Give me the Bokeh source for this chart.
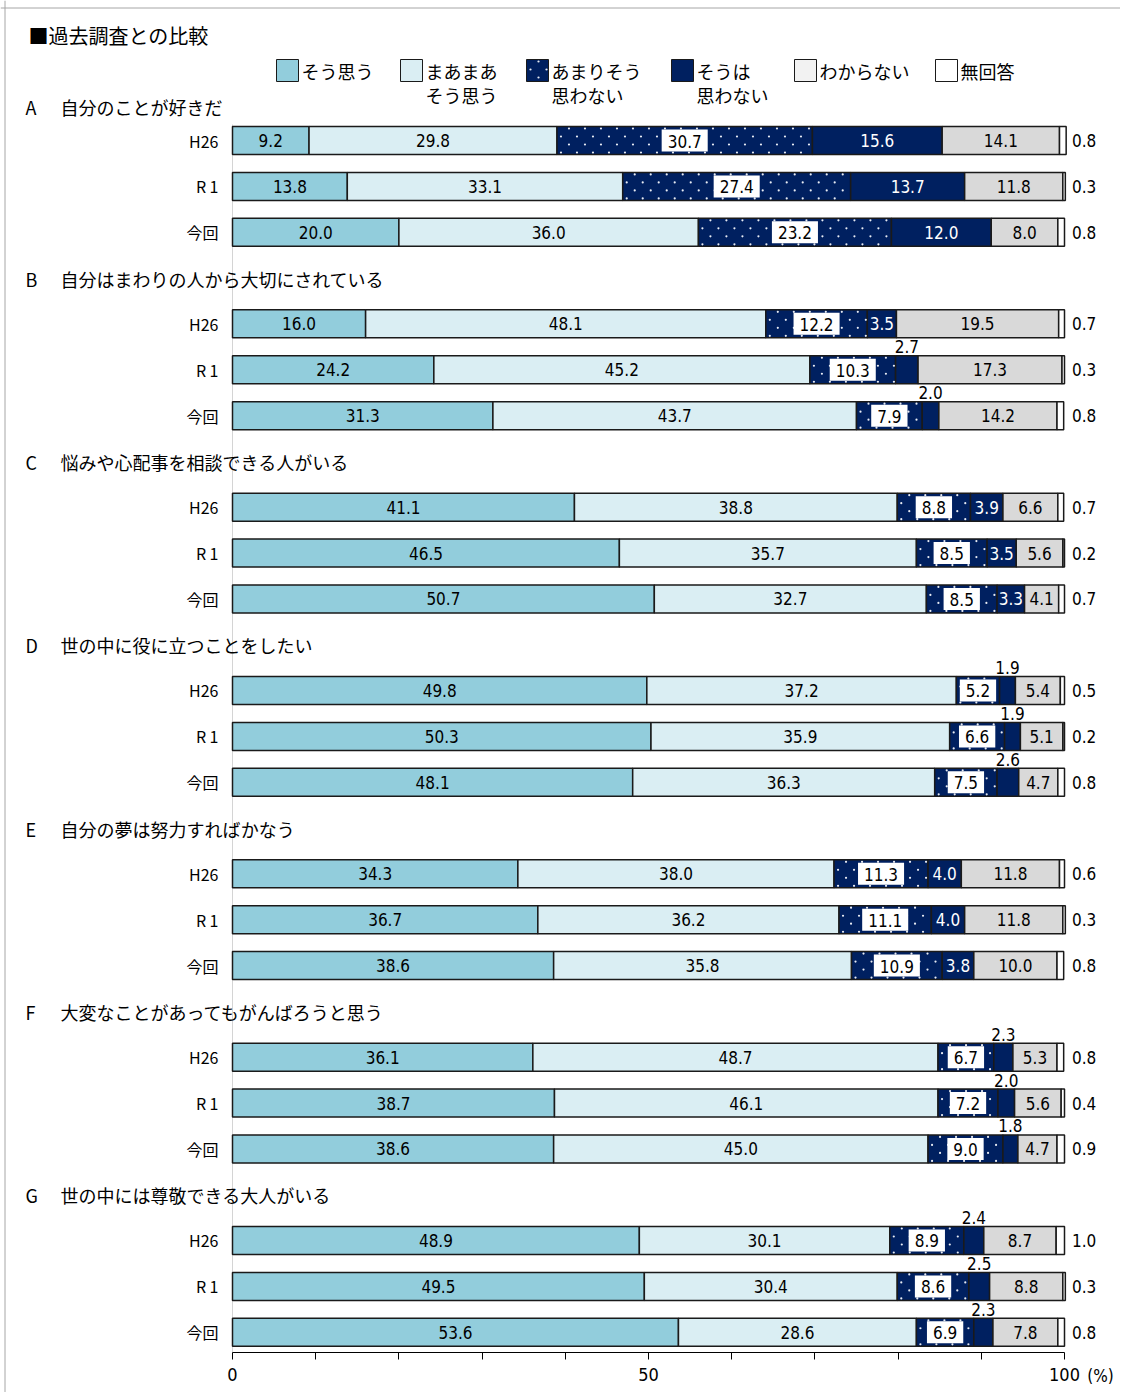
from bokeh.plotting import figure
from bokeh.models import Range1d, FixedTicker, Span, ColumnDataSource, LinearAxis
from bokeh.core.properties import value
from bokeh.embed import file_html
from bokeh.resources import INLINE

# ---------------- data ----------------
title = "■過去調査との比較"
letters = ["A", "B", "C", "D", "E", "F", "G"]
questions = [
    "自分のことが好きだ",
    "自分はまわりの人から大切にされている",
    "悩みや心配事を相談できる人がいる",
    "世の中に役に立つことをしたい",
    "自分の夢は努力すればかなう",
    "大変なことがあってもがんばろうと思う",
    "世の中には尊敬できる大人がいる",
]
surveys = ["H26", "R 1", "今回"]
series_names = [["そう思う"], ["まあまあ", "そう思う"], ["あまりそう", "思わない"],
                ["そうは", "思わない"], ["わからない"], ["無回答"]]

so_omou = [9.2, 13.8, 20.0, 16.0, 24.2, 31.3, 41.1, 46.5, 50.7, 49.8, 50.3, 48.1,
           34.3, 36.7, 38.6, 36.1, 38.7, 38.6, 48.9, 49.5, 53.6]
maamaa = [29.8, 33.1, 36.0, 48.1, 45.2, 43.7, 38.8, 35.7, 32.7, 37.2, 35.9, 36.3,
          38.0, 36.2, 35.8, 48.7, 46.1, 45.0, 30.1, 30.4, 28.6]
amari = [30.7, 27.4, 23.2, 12.2, 10.3, 7.9, 8.8, 8.5, 8.5, 5.2, 6.6, 7.5,
         11.3, 11.1, 10.9, 6.7, 7.2, 9.0, 8.9, 8.6, 6.9]
souha = [15.6, 13.7, 12.0, 3.5, 2.7, 2.0, 3.9, 3.5, 3.3, 1.9, 1.9, 2.6,
         4.0, 4.0, 3.8, 2.3, 2.0, 1.8, 2.4, 2.5, 2.3]
wakaranai = [14.1, 11.8, 8.0, 19.5, 17.3, 14.2, 6.6, 5.6, 4.1, 5.4, 5.1, 4.7,
             11.8, 11.8, 10.0, 5.3, 5.6, 4.7, 8.7, 8.8, 7.8]
mukaitou = [0.8, 0.3, 0.8, 0.7, 0.3, 0.8, 0.7, 0.2, 0.7, 0.5, 0.2, 0.8,
            0.6, 0.3, 0.8, 0.8, 0.4, 0.9, 1.0, 0.3, 0.8]

x_ticks = [0, 50, 100]
x_minor = [10, 20, 30, 40, 60, 70, 80, 90]
x_unit = "(%)"

# ---------------- styles ----------------
JP = "Noto Sans CJK JP"
NUM = "'DejaVu Sans Condensed', 'Roboto'"
NAVY = "#002060"
fills = ["#92CDDC", "#DAEEF3", NAVY, NAVY, "#D9D9D9", "#FFFFFF"]
legend_fills = ["#92CDDC", "#DAEEF3", NAVY, NAVY, "#F2F2F2", "#FFFFFF"]
OUTLINE = "#1a1a1a"

W, H = 1120, 1392
AXIS_Y = 1352
LEFT_PX, RIGHT_PX = 232.0, 1064.0     # pixel of 0 % and 100 %
SCALE = (RIGHT_PX - LEFT_PX) / 100.0
X0 = (0 - LEFT_PX) / SCALE
X1 = (W - LEFT_PX) / SCALE
BAR_H = 28


def px(x):
    return (x - LEFT_PX) / SCALE


def dot_grid(left, right, yc, half):
    """white dot texture positions for a box (x in data units, y in pixels)"""
    dx, dy = [], []
    top, bottom = yc - half, yc + half
    i = 0
    yy = top + 2.0
    while yy < bottom - 1.0:
        off = 8.0 if i % 2 == 0 else 0.0
        xx = left + (4.0 + off) / SCALE
        while xx < right - 1.5 / SCALE:
            dx.append(xx)
            dy.append(yy)
            xx += 16.0 / SCALE
        yy += 8.0
        i += 1
    return dx, dy


p = figure(width=W, height=H, output_backend="svg", toolbar_location=None,
           x_range=Range1d(X0, X1), y_range=Range1d(H, 0),
           x_axis_location=None, y_axis_location=None,
           min_border_left=0, min_border_right=0, min_border_top=0,
           min_border_bottom=0)
p.grid.visible = False
p.outline_line_color = None
p.background_fill_color = "white"

# row positions
n_rows = len(so_omou)
ys = []
for g in range(len(questions)):
    for r in range(len(surveys)):
        ys.append(140 + g * 183.33 + r * 45.9)

series = [so_omou, maamaa, amari, souha, wakaranai, mukaitou]
lefts = [0.0] * n_rows
seg_left, seg_right = [], []
for s in series:
    rights = [l + v for l, v in zip(lefts, s)]
    seg_left.append(lefts)
    seg_right.append(rights)
    lefts = rights

# faint vertical line at 0
p.segment(x0=[0], y0=[124], x1=[0], y1=[AXIS_Y], line_color="#d4d4d4", line_width=1)

for i, s in enumerate(series):
    p.hbar(y=ys, left=seg_left[i], right=seg_right[i], height=BAR_H,
           fill_color=fills[i], line_color=OUTLINE, line_width=1.5)

# dotted texture of あまりそう思わない
ddx, ddy = [], []
for k in range(n_rows):
    a, b = dot_grid(seg_left[2][k], seg_right[2][k], ys[k], BAR_H / 2)
    ddx += a
    ddy += b
p.scatter(x=ddx, y=ddy, marker="circle", size=2.2, fill_color="#e8ecf4",
          line_color=None)


# ---------------- value labels ----------------
def add_text(xs, yv, texts, color="black", align="center", size="17px", font=NUM, **extra):
    src = ColumnDataSource(dict(x=xs, y=yv, t=texts))
    p.text(x="x", y="y", text="t", source=src, text_color=color, text_align=align,
           text_baseline="middle", text_font_size=size, text_font=value(font), **extra)


for i in (0, 1, 4):
    xs = [(a + b) / 2 for a, b in zip(seg_left[i], seg_right[i])]
    add_text(xs, ys, [f"{v:.1f}" for v in series[i]])

# あまりそう思わない: white box
xs = [(a + b) / 2 for a, b in zip(seg_left[2], seg_right[2])]
add_text(xs, ys, [f"{v:.1f}" for v in series[2]],
         background_fill_color="white", padding=dict(left=6, right=6, top=5, bottom=4))

# そうは思わない: inside (white) or above (black)
in_x, in_y, in_t, out_x, out_y, out_t = [], [], [], [], [], []
for k, v in enumerate(souha):
    cx = (seg_left[3][k] + seg_right[3][k]) / 2
    if v >= 3:
        in_x.append(cx); in_y.append(ys[k]); in_t.append(f"{v:.1f}")
    else:
        out_x.append(cx); out_y.append(ys[k] - 23); out_t.append(f"{v:.1f}")
add_text(in_x, in_y, in_t, color="white")
add_text(out_x, out_y, out_t)

# 無回答: right of the bar
add_text([100.9] * n_rows, ys, [f"{v:.1f}" for v in mukaitou], align="left")

# ---------------- row / group labels ----------------
add_text([px(218)] * n_rows, ys, surveys * len(questions), align="right", size="16px", font=JP)

hdr_y = [ys[g * 3] - (34 if g == 0 else 45) for g in range(len(questions))]
add_text([px(25)] * len(letters), hdr_y, letters, align="left", size="18px", font=JP)
add_text([px(60)] * len(questions), hdr_y, questions, align="left", size="18px", font=JP)

add_text([px(28)], [35], [title], align="left", size="20px", font=JP)

# ---------------- legend ----------------
leg_px = [276, 400, 526, 671, 794, 935]
for i, name in enumerate(series_names):
    p.rect(x=[px(leg_px[i] + 11)], y=[70], width=22, height=22,
           width_units="screen", height_units="screen",
           fill_color=legend_fills[i], line_color=OUTLINE, line_width=1)
    if i == 2:
        a, b = dot_grid(px(leg_px[i]), px(leg_px[i] + 22), 70, 11)
        p.scatter(x=a, y=b, marker="circle", size=2.2, fill_color="#e8ecf4", line_color=None)
    for j, line in enumerate(name):
        add_text([px(leg_px[i] + 25)], [70 + j * 24], [line], align="left", size="18px", font=JP)

# ---------------- axis ----------------
ax = LinearAxis(fixed_location=AXIS_Y, bounds=(0, 100),
                ticker=FixedTicker(ticks=x_ticks, minor_ticks=x_minor))
ax.axis_line_color = "black"
ax.axis_line_width = 1
ax.major_tick_out = 7
ax.major_tick_in = 0
ax.minor_tick_out = 7
ax.minor_tick_in = 0
ax.major_tick_line_color = "black"
ax.minor_tick_line_color = "black"
ax.major_label_text_font = NUM
ax.major_label_text_font_size = "18px"
ax.major_label_text_color = "black"
ax.major_label_standoff = 8
p.add_layout(ax, "below")

add_text([px(1100)], [1375], [x_unit], size="17px")

# frame border (top / left)
p.add_layout(Span(location=px(4.5), dimension="height", line_color="#a6a6a6", line_width=1))
p.add_layout(Span(location=7.5, dimension="width", line_color="#a6a6a6", line_width=1))

open("out.html", "w").write(file_html(p, INLINE))
